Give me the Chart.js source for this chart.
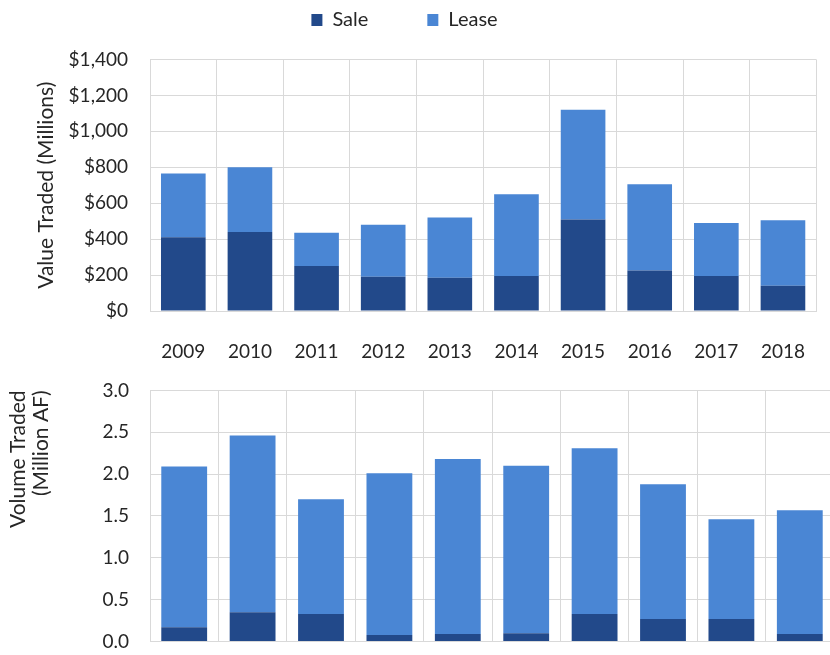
<!DOCTYPE html>
<html>
<head>
<meta charset="utf-8">
<script src="https://cdn.jsdelivr.net/npm/chart.js@4.4.1/dist/chart.umd.min.js"></script>
<style>
  html, body { margin: 0; padding: 0; background: #fff; overflow: hidden; }
  #wrap { position: relative; width: 830px; height: 655px; overflow: hidden; }
  canvas { position: absolute; }
  /* canvases are a bit larger than the window and get clipped at the edges */
  #valueChart { left: -25px; top: -49px; }
  #volumeChart { left: 0; top: 358px; }
</style>
</head>
<body>
<div id="wrap">
  <canvas id="valueChart" width="859" height="409"></canvas>
  <canvas id="volumeChart" width="834" height="316"></canvas>
</div>
<script>
// Data
const years = ['2009', '2010', '2011', '2012', '2013', '2014', '2015', '2016', '2017', '2018'];

// Value traded, $ millions
const valueSale  = [410, 440, 250, 190, 185, 195, 510, 225, 195, 140];
const valueLease = [355, 360, 185, 290, 335, 455, 610, 480, 295, 365];
const valueTicks = [0, 200, 400, 600, 800, 1000, 1200, 1400];

// Volume traded, million AF
const volumeSale  = [0.17, 0.35, 0.33, 0.08, 0.09, 0.10, 0.33, 0.27, 0.27, 0.09];
const volumeLease = [1.92, 2.11, 1.37, 1.93, 2.09, 2.00, 1.98, 1.61, 1.19, 1.48];
const volumeTicks = [0, 0.5, 1.0, 1.5, 2.0, 2.5, 3.0];

const saleColor = '#22498a';
const leaseColor = '#4a86d4';
const gridColor = '#d9d9d9';
const textColor = '#262626';

Chart.defaults.font.family = 'Lato, "Open Sans", sans-serif';
Chart.defaults.color = textColor;
Chart.defaults.animation = false;

// adds some space between the legend and the plot
const legendGap = {
    id: 'legendGap',
    beforeInit(chart) {
        const fit = chart.legend.fit;
        chart.legend.fit = function () {
            fit.call(this);
            this.height += 19.5;
        };
    }
};

function barSets(sale, lease) {
    return [
        { label: 'Sale', data: sale, backgroundColor: saleColor, borderWidth: 0,
          barPercentage: 0.67, categoryPercentage: 1 },
        { label: 'Lease', data: lease, backgroundColor: leaseColor, borderWidth: 0,
          barPercentage: 0.67, categoryPercentage: 1 }
    ];
}

// Top chart: value traded
new Chart(document.getElementById('valueChart'), {
    type: 'bar',
    data: { labels: years, datasets: barSets(valueSale, valueLease) },
    plugins: [legendGap],
    options: {
        responsive: false,
        layout: { padding: 0 },
        plugins: {
            tooltip: { enabled: false },
            legend: {
                position: 'top',
                labels: {
                    boxWidth: 11,
                    boxHeight: 12,
                    padding: 59,
                    color: textColor,
                    font: { size: 20 }
                }
            }
        },
        scales: {
            x: {
                stacked: true,
                grid: { color: gridColor, drawTicks: false, offset: true },
                border: { color: gridColor },
                ticks: { padding: 29, font: { size: 19 }, color: textColor },
                afterFit: (scale) => { scale.height = 49; }
            },
            y: {
                stacked: true,
                min: 0,
                max: 1400,
                afterBuildTicks: (scale) => { scale.ticks = valueTicks.map(v => ({ value: v })); },
                grid: { color: gridColor, drawTicks: false },
                border: { display: false },
                ticks: {
                    padding: 22,
                    font: { size: 19 },
                    color: textColor,
                    callback: (v) => '$' + Number(v).toLocaleString('en-US')
                },
                title: {
                    display: true,
                    text: 'Value Traded (Millions)',
                    font: { size: 21 },
                    color: textColor,
                    padding: { top: 58.6, bottom: 0 }
                },
                afterFit: (scale) => { scale.width = 175; }
            }
        }
    }
});

// Bottom chart: volume traded
new Chart(document.getElementById('volumeChart'), {
    type: 'bar',
    data: { labels: years, datasets: barSets(volumeSale, volumeLease) },
    options: {
        responsive: false,
        layout: { padding: 0 },
        plugins: {
            tooltip: { enabled: false },
            legend: { display: false }
        },
        scales: {
            x: {
                stacked: true,
                grid: { color: gridColor, drawTicks: false, offset: true },
                border: { color: gridColor },
                ticks: { display: false },
                afterFit: (scale) => { scale.height = 13; }
            },
            y: {
                stacked: true,
                min: 0,
                max: 3,
                afterBuildTicks: (scale) => { scale.ticks = volumeTicks.map(v => ({ value: v })); },
                grid: { color: gridColor, drawTicks: false },
                border: { display: false },
                ticks: {
                    padding: 21,
                    font: { size: 19 },
                    color: textColor,
                    callback: (v) => Number(v).toFixed(1)
                },
                title: {
                    display: true,
                    text: ['Volume Traded', '(Million AF)'],
                    align: 'end',
                    font: { size: 21, lineHeight: 1.1 },
                    color: textColor,
                    padding: { top: 6.7, bottom: 0 }
                },
                afterFit: (scale) => { scale.width = 150; }
            }
        }
    }
});
</script>
</body>
</html>
